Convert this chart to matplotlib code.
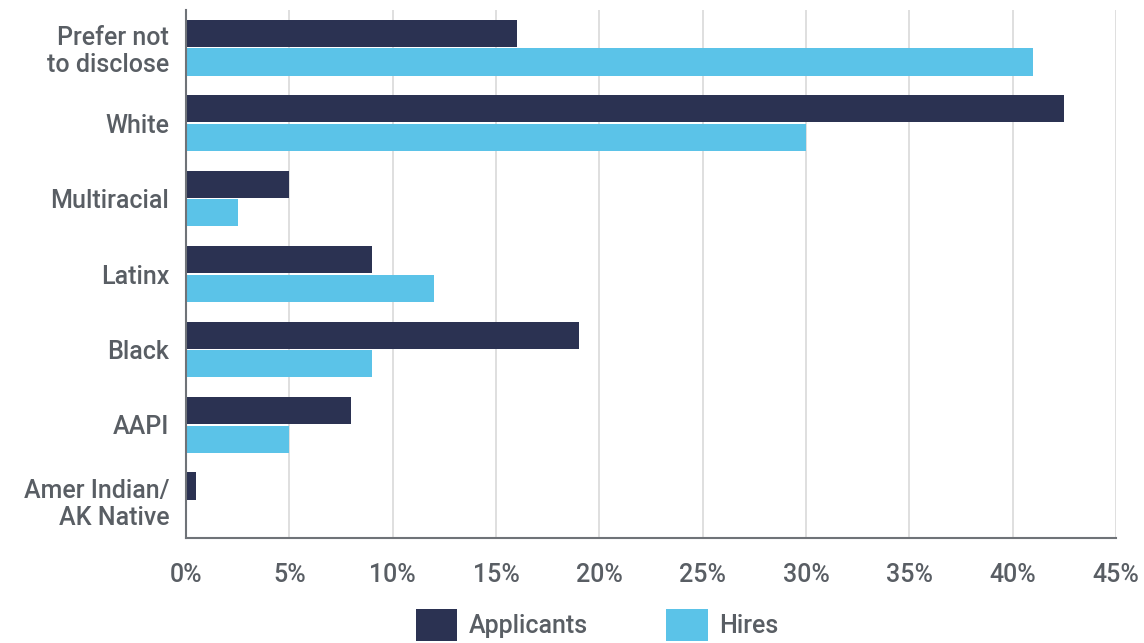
import matplotlib.pyplot as plt
import numpy as np

categories = ['Prefer not\nto disclose', 'White', 'Multiracial', 'Latinx', 'Black', 'AAPI',
              'Amer Indian/\nAK Native']
applicants = [16, 42.5, 5, 9, 19, 8, 0.5]
hires = [41, 30, 2.5, 12, 9, 5, 0]
xticks = [0, 5, 10, 15, 20, 25, 30, 35, 40, 45]

navy = '#2b3252'
sky = '#5bc3e8'
grey = '#595e64'

plt.rcParams['font.family'] = ['Roboto', 'DejaVu Sans']
plt.rcParams['font.weight'] = 'medium'

fig = plt.figure(figsize=(11.44, 6.43), dpi=100)
ax = fig.add_axes([0.1626, 0.1633, 0.8129, 0.8211])

y = np.arange(len(categories))
h = 0.36
ax.barh(y - 0.19, applicants, height=h, color=navy, label='Applicants', zorder=3)
ax.barh(y + 0.19, hires, height=h, color=sky, label='Hires', zorder=3)

ax.set_ylim(len(categories) - 0.5, -0.5)
ax.set_xlim(0, 45)
ax.set_xticks(xticks)
ax.set_xticklabels([f'{t}%' for t in xticks])
ax.set_yticks(y)
ax.set_yticklabels(categories, linespacing=1.15)

ax.grid(axis='x', color='#d9d9d9', linewidth=1.2, zorder=0)
for s in ['top', 'right']:
    ax.spines[s].set_visible(False)
for s in ['left', 'bottom']:
    ax.spines[s].set_color('#6f7378')
    ax.spines[s].set_linewidth(1.5)
    ax.spines[s].set_zorder(4)
ax.tick_params(axis='both', length=0, labelsize=18, colors=grey)
ax.tick_params(axis='x', pad=18)
ax.tick_params(axis='y', pad=12)

fig.legend(loc='center', bbox_to_anchor=(0.522, 0.028), ncol=2, frameon=False,
           fontsize=18, labelcolor=grey, handlelength=1.65, handleheight=1.65,
           columnspacing=3.15, handletextpad=0.45)

fig.savefig('out.png', dpi=100)
